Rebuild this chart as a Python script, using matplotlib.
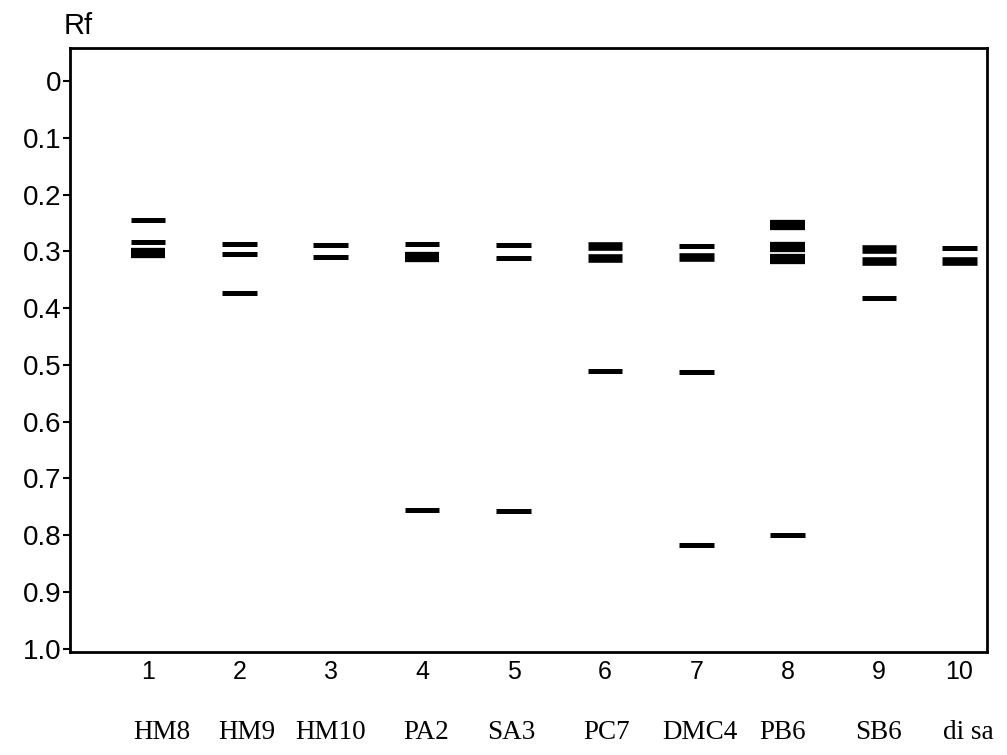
import numpy as np
import matplotlib
matplotlib.use("Agg")
import matplotlib.pyplot as plt

# Rf values of the bands in each lane
lanes = [1, 2, 3, 4, 5, 6, 7, 8, 9, 10]
lane_pos = [1, 2, 3, 4, 5, 6, 7, 8, 9, 9.88]
samples = ["HM8", "HM9", "HM10", "PA2", "SA3", "PC7", "DMC4", "PB6", "SB6", "di sa"]
sample_pos = [1.15, 2.08, 3.0, 4.04, 4.98, 6.02, 7.04, 7.95, 8.99, 9.98]

rf = [
    [0.244, 0.283, 0.303],
    [0.286, 0.305, 0.374],
    [0.289, 0.310],
    [0.287, 0.309, 0.755],
    [0.288, 0.311, 0.757],
    [0.290, 0.311, 0.511],
    [0.291, 0.310, 0.513, 0.817],
    [0.253, 0.292, 0.314, 0.800],
    [0.295, 0.317, 0.382],
    [0.294, 0.317],
]
# band intensity: 1 = faint, 2 = medium, 3 = strong
strength = [
    [1, 1, 3],
    [1, 1, 1],
    [1, 1],
    [1, 3, 1],
    [1, 1, 1],
    [2, 2, 1],
    [1, 2, 1, 1],
    [3, 3, 3, 1],
    [2, 2, 1],
    [1, 2],
]

yticks = [0, 0.1, 0.2, 0.3, 0.4, 0.5, 0.6, 0.7, 0.8, 0.9, 1.0]
ytick_labels = ["0", "0.1", "0.2", "0.3", "0.4", "0.5", "0.6", "0.7", "0.8", "0.9", "1.0"]

lw_for = {1: 3.6, 2: 6.2, 3: 7.4}
half_w = 0.19

fig = plt.figure(figsize=(10.07, 7.55), dpi=100)
ax = fig.add_axes([0.0695, 0.1364, 0.9105, 0.7996])

for x, vals, st in zip(lane_pos, rf, strength):
    for v, s in zip(vals, st):
        ax.hlines(v, x - half_w, x + half_w, colors="black", linewidth=lw_for[s],
                  capstyle="butt")

ax.set_xlim(0.147, 10.18)
ax.set_ylim(1.006, -0.058)

ax.set_yticks(yticks)
ax.set_yticklabels(ytick_labels, fontsize=20, family="Liberation Sans")
ax.set_xticks(lane_pos)
ax.set_xticklabels([str(n) for n in lanes], fontsize=18, family="Liberation Sans")
ax.tick_params(axis="y", direction="out", length=5, width=1.5, pad=1)
ax.tick_params(axis="x", length=0, pad=6)

for sp in ax.spines.values():
    sp.set_linewidth(2.0)

for x, name in zip(sample_pos, samples):
    ax.text(x, -0.134, name, transform=ax.get_xaxis_transform(),
            ha="center", va="center", fontsize=19.5, family="Liberation Serif")

fig.text(0.078, 0.965, "Rf", fontsize=21, family="Liberation Sans",
         ha="center", va="center")

fig.savefig("out.png", dpi=100)
